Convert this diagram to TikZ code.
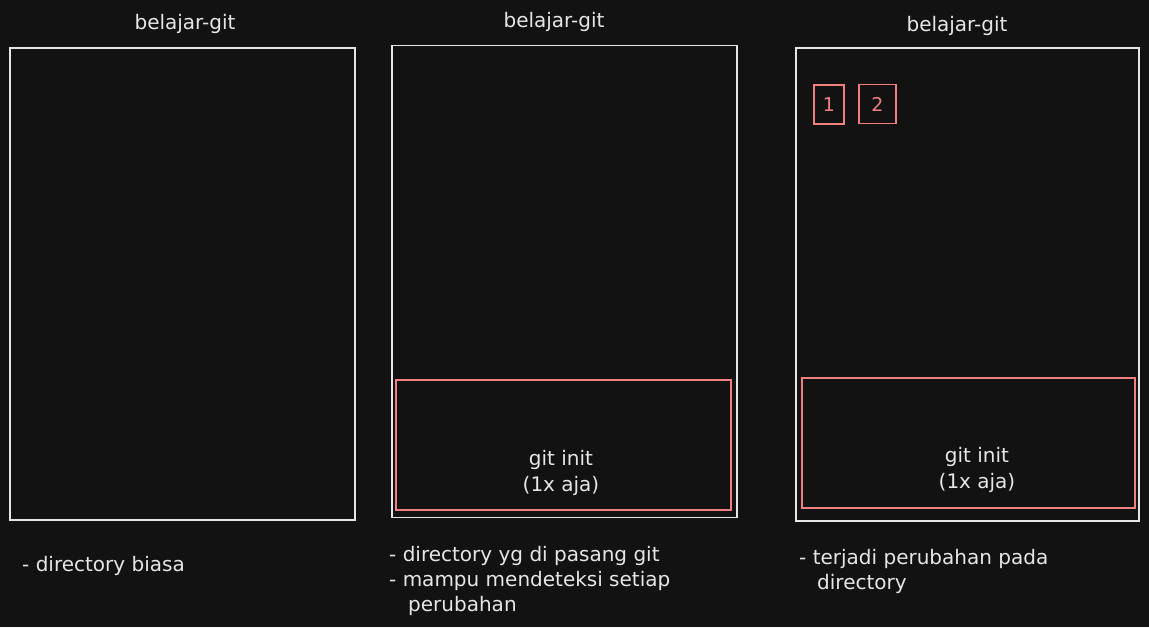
\documentclass[tikz,border=0pt]{standalone}
\usepackage{fontspec}
\setmainfont{DejaVu Sans}
\usepackage{xcolor}
\definecolor{cBg}{HTML}{121212}
\definecolor{cLine}{HTML}{E6E6E6}
\definecolor{cRed}{HTML}{F08080}
\usepackage{tikz}
\usetikzlibrary{positioning}

\begin{document}
\begin{tikzpicture}[
    x=1pt, y=-1pt,
    folder/.style={draw=cLine, line width=1.1pt, minimum width=345pt,
                   minimum height=472pt, inner sep=0pt},
    gitbox/.style={draw=cRed, line width=1.1pt, minimum width=335pt,
                   minimum height=130pt, inner sep=0pt},
    filebox/.style={draw=cRed, line width=1.1pt, minimum width=32pt,
                    minimum height=39pt, inner sep=0pt, text=cRed,
                    font=\fontsize{19}{22}\selectfont},
    title/.style={text=cLine, font=\fontsize{20}{24}\selectfont},
    label/.style={text=cLine, align=center, font=\fontsize{20}{26}\selectfont},
    note/.style={text=cLine, align=left, anchor=north west,
                 font=\fontsize{20}{25}\selectfont, inner sep=0pt}
]
\fill[cBg] (0,0) rectangle (1149,627);
\useasboundingbox (0,0) rectangle (1149,627);

% directory biasa
\node[folder] (dir1) at (182.5,284) {};
\node[title] (title1) at (185,24) {belajar-git};
\node[note] (note1) at (22,556) {- directory biasa};

% sesudah git init
\node[folder] (dir2) at (564.5,281.5) {};
\node[title] (title2) at (554,22) {belajar-git};
\node[gitbox] (git2) at (563.5,445) {};
\node[label] (init2) at (561,473) {git init\\(1x aja)};
\node[note] (note2) at (389,546) {- directory yg di pasang git\\- mampu mendeteksi setiap\\\hspace*{19pt}perubahan};

% ada perubahan
\node[folder, minimum width=343pt, minimum height=473pt] (dir3) at (967.5,284.5) {};
\node[title] (title3) at (957,26) {belajar-git};
\node[gitbox, minimum width=333pt] (git3) at (968.5,443) {};
\node[label] (init3) at (977,470) {git init\\(1x aja)};
\node[filebox, minimum width=30pt] (file1) at (829,104.5) {1};
\node[filebox, minimum width=37pt] (file2) at (877.5,104) {2};
\node[note] (note3) at (799,549) {- terjadi perubahan pada\\\hspace*{18pt}directory};
\end{tikzpicture}
\end{document}
